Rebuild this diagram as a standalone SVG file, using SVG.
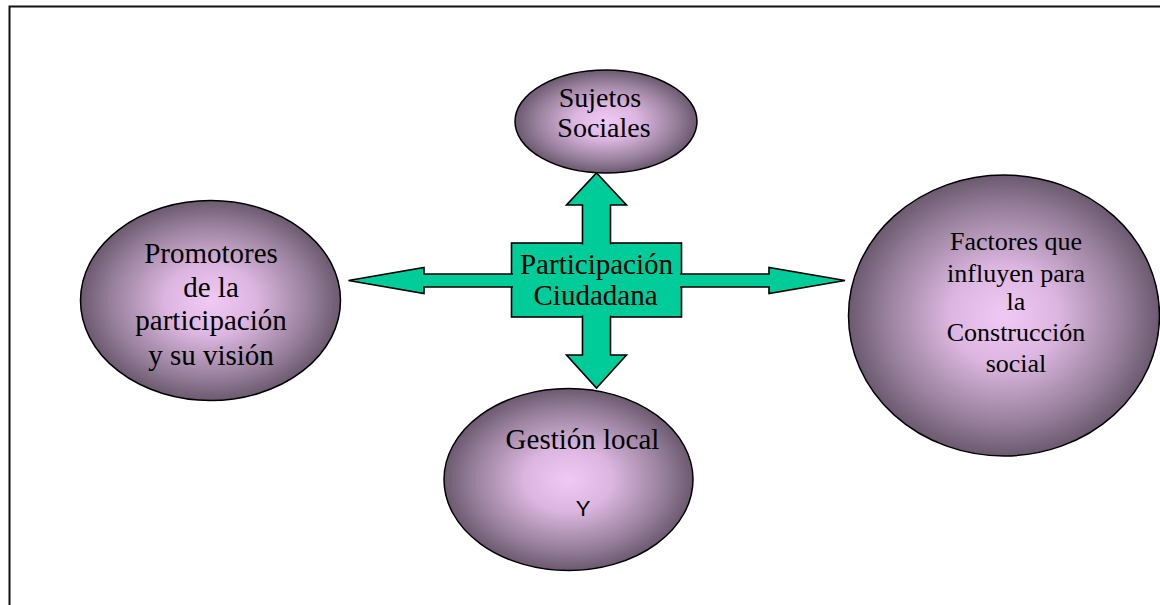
<svg xmlns="http://www.w3.org/2000/svg" width="1160" height="605" viewBox="0 0 1160 605">
  <defs>
    <radialGradient id="mauve" cx="0.5" cy="0.5" r="0.5">
      <stop offset="0" stop-color="#f0c9f5"/>
      <stop offset="0.35" stop-color="#dcb6e0"/>
      <stop offset="0.75" stop-color="#9a829e"/>
      <stop offset="1" stop-color="#6b5a6f"/>
    </radialGradient>
    <style>
      .bubble { fill: url(#mauve); stroke: #000; stroke-width: 1.5; }
      .green { fill: #00cc99; stroke: #000; stroke-width: 1.6; stroke-linejoin: miter; }
      .t { font-family: 'Liberation Serif', 'DejaVu Serif', serif; fill: #000; text-anchor: middle; }
      .s { font-family: 'Liberation Sans', 'DejaVu Sans', sans-serif; fill: #000; text-anchor: middle; }
    </style>
  </defs>
  <rect x="0" y="0" width="1160" height="605" fill="#fff"/>
  <rect x="9.5" y="6.5" width="1200" height="700" fill="none" stroke="#111" stroke-width="2"/>

  <g id="center">
    <rect class="green" x="511.5" y="243" width="170" height="74"/>
  </g>

  <g id="connectors">
    <path class="green" d="M582.5,244.5 L582.5,205 L566.5,205 L596.5,173 L626.5,205 L610.5,205 L610.5,244.5"/>
    <path class="green" d="M582.5,315.5 L582.5,355 L566.5,355 L596.5,388 L626.5,355 L610.5,355 L610.5,315.5"/>
    <path class="green" d="M513,274 L424,274 L424,267.5 L348.5,280.5 L424,293.5 L424,287 L513,287"/>
    <path class="green" d="M680,274 L769,274 L769,267.5 L845,280.5 L769,293.5 L769,287 L680,287"/>
  </g>

  <g id="center-label" font-family="'Liberation Serif', 'DejaVu Serif', serif">
    <text class="t" font-size="29" x="596.5" y="273.5">Participación</text>
    <text class="t" font-size="29" x="595.5" y="305">Ciudadana</text>
  </g>

  <g id="sujetos" font-family="'Liberation Serif', 'DejaVu Serif', serif">
    <ellipse class="bubble" cx="606" cy="121.5" rx="91" ry="51.5"/>
    <text class="t" font-size="28" x="600" y="107">Sujetos</text>
    <text class="t" font-size="28" x="604" y="137">Sociales</text>
  </g>

  <g id="promotores" font-family="'Liberation Serif', 'DejaVu Serif', serif">
    <ellipse class="bubble" cx="210.5" cy="300.5" rx="130" ry="100"/>
    <text class="t" font-size="29" x="211" y="263">Promotores</text>
    <text class="t" font-size="29" x="211" y="297">de la</text>
    <text class="t" font-size="29" x="211" y="330">participación</text>
    <text class="t" font-size="29" x="211" y="365">y su visión</text>
  </g>

  <g id="factores" font-family="'Liberation Serif', 'DejaVu Serif', serif">
    <ellipse class="bubble" cx="1004" cy="315.5" rx="155.5" ry="140.5"/>
    <text class="t" font-size="26" x="1016" y="250">Factores que</text>
    <text class="t" font-size="26" x="1016" y="281.5">influyen para</text>
    <text class="t" font-size="26" x="1016" y="310">la</text>
    <text class="t" font-size="26" x="1016" y="340.5">Construcción</text>
    <text class="t" font-size="26" x="1016" y="371.5">social</text>
  </g>

  <g id="gestion" font-family="'Liberation Serif', 'DejaVu Serif', serif">
    <ellipse class="bubble" cx="568.5" cy="479.5" rx="124.5" ry="91"/>
    <text class="t" font-size="29" x="582.5" y="449">Gestión local</text>
    <text class="s" font-size="22" x="583" y="516">Y</text>
  </g>
</svg>
